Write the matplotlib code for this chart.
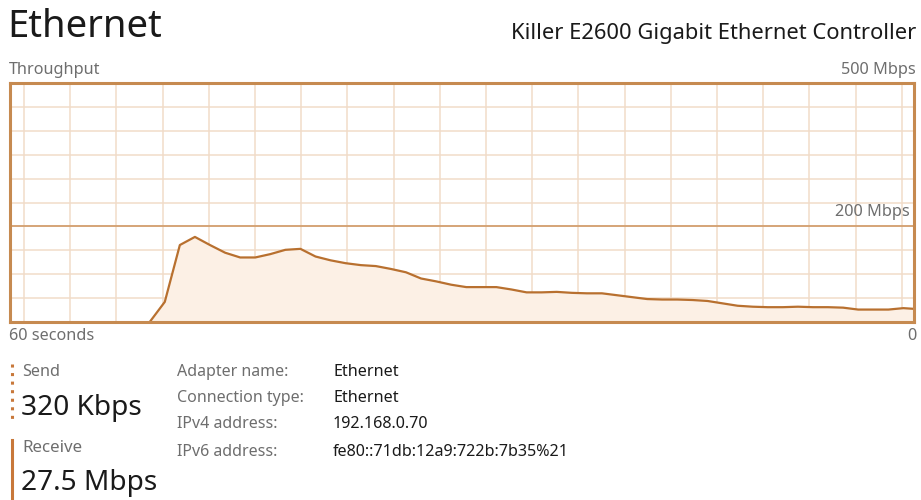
import numpy as np
import matplotlib
matplotlib.use("Agg")
import matplotlib.pyplot as plt
from matplotlib.lines import Line2D

# ---------------- data ----------------
title = "Ethernet"
adapter_model = "Killer E2600 Gigabit Ethernet Controller"
y_max_label = "500 Mbps"
mid_label = "200 Mbps"
x_left_label = "60 seconds"
x_right_label = "0"

# seconds elapsed within the 60 s window, and receive throughput (Mbps)
elapsed = [9.3, 10.3, 11.3, 12.3, 13.3, 14.3, 15.3, 16.3, 17.3, 18.3,
           19.3, 20.3, 21.3, 22.3, 23.3, 24.3, 25.3, 26.3, 27.3, 28.3,
           29.3, 30.3, 31.3, 32.3, 33.3, 34.3, 35.3, 36.3, 37.3, 38.3,
           39.3, 40.3, 41.3, 42.3, 43.3, 44.3, 45.3, 46.3, 47.3, 48.3,
           49.3, 50.3, 51.3, 52.3, 53.3, 54.3, 55.3, 56.3, 57.3, 58.3,
           59.3, 60.0]
receive_mbps = [0, 42, 161, 178, 161, 145, 135, 135, 142, 151,
                153, 137, 129, 123, 119, 117, 111, 104, 91, 85,
                78, 73, 73, 73, 68, 62, 62, 63, 61, 60,
                60, 56, 52, 48, 47, 47, 46, 44, 39, 34,
                32, 31, 31, 32, 31, 31, 30, 26, 26, 26,
                29, 27.5]

stat_names = ["Send", "Receive"]
stat_values = ["320 Kbps", "27.5 Mbps"]
info_labels = ["Adapter name:", "Connection type:", "IPv4 address:", "IPv6 address:"]
info_values = ["Ethernet", "Ethernet", "192.168.0.70", "fe80::71db:12a9:722b:7b35%21"]

# ---------------- style ----------------
W, H = 921, 500
FONT = "Noto Sans"
border_c = "#C68A50"
line_c = "#B8702F"
fill_c = "#FCF0E5"
grid_c = "#F1DCC9"
mid_c = "#D09A68"
gray = "#6E6E6E"
dark = "#1A1A1A"

plt.rcParams["font.family"] = [FONT, "DejaVu Sans"]

fig = plt.figure(figsize=(W / 100, H / 100), dpi=100)
fig.patch.set_facecolor("white")

def px(x, y):
    return x / W, 1 - y / H

left, top, right, bottom = 9.5, 83, 914, 322
ax = fig.add_axes([left / W, 1 - bottom / H, (right - left) / W, (bottom - top) / H])
ax.set_xlim(0, 60)
ax.set_ylim(0, 500)
ax.set_facecolor("white")

# grid
for k in range(20):
    ax.axvline(0.96 + k * 3.065, color=grid_c, lw=1.1, zorder=1)
for v in range(50, 500, 50):
    ax.axhline(v, color=grid_c, lw=1.1, zorder=1)
ax.axhline(200, color=mid_c, lw=1.2, zorder=2)

ax.fill_between(elapsed, receive_mbps, 0, color=fill_c, zorder=2, lw=0)
ax.plot(elapsed, receive_mbps, color=line_c, lw=1.6, zorder=3, solid_joinstyle="round")

for s in ax.spines.values():
    s.set_color(border_c)
    s.set_linewidth(2.2)
    s.set_zorder(5)
ax.set_xticks([])
ax.set_yticks([])

# ---------------- texts ----------------
small = 11.7
fig.text(*px(7, 27), title, fontsize=27.5, color=dark, va="center", ha="left")
fig.text(*px(916, 33), adapter_model, fontsize=15.8, color=dark, va="center", ha="right")
fig.text(*px(9, 70), "Throughput", fontsize=small, color=gray, va="center", ha="left")
fig.text(*px(916, 70), y_max_label, fontsize=small, color=gray, va="center", ha="right")
fig.text(*px(910, 212), mid_label, fontsize=small, color=gray, va="center", ha="right")
fig.text(*px(9, 336), x_left_label, fontsize=small, color=gray, va="center", ha="left")
fig.text(*px(916, 336), x_right_label, fontsize=small, color=gray, va="center", ha="right")

# send / receive indicators
fig.add_artist(Line2D([12 / W, 12 / W], [1 - 364 / H, 1 - 421 / H], color="#C8783A",
                      lw=2.2, linestyle=(0, (1.0, 1.8)), transform=fig.transFigure))
fig.add_artist(Line2D([12 / W, 12 / W], [1 - 440 / H, 1 - 500 / H], color="#C8783A",
                      lw=2.2, transform=fig.transFigure))

name_y = [372, 448]
val_y = [408, 483]
name_sizes = [11.6, 12.2]
for n, v, ny, vy, ns in zip(stat_names, stat_values, name_y, val_y, name_sizes):
    fig.text(*px(22, ny), n, fontsize=ns, color=gray, va="center", ha="left")
    fig.text(*px(21, vy), v, fontsize=20.2, color=dark, va="center", ha="left")

row_y = [372, 398, 424, 452]
for lab, val, ry in zip(info_labels, info_values, row_y):
    fig.text(*px(177, ry), lab, fontsize=11.5, color=gray, va="center", ha="left")
    fig.text(*px(333, ry), val, fontsize=11.6, color=dark, va="center", ha="left")

fig.savefig("out.png", dpi=100, facecolor="white")
